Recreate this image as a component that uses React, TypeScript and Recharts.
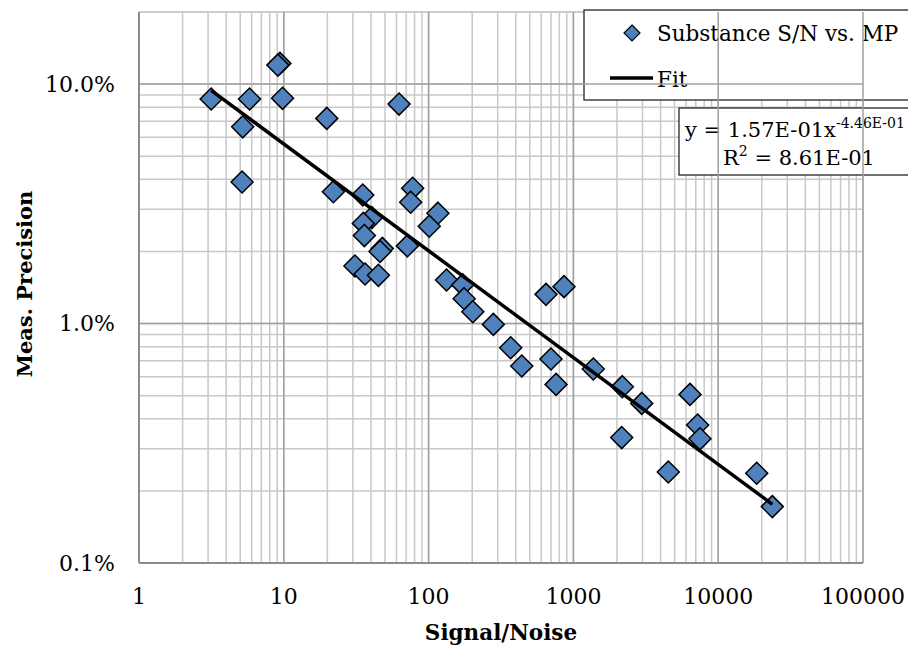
import React from 'react';
import {
  ScatterChart,
  Scatter,
  XAxis,
  YAxis,
  CartesianGrid,
  ReferenceLine,
  Customized,
} from 'recharts';

// Signal/noise ratio of each substance
const signalNoise = [
  3.15, 5.2, 5.15, 5.8, 9.4, 9.1, 9.8, 19.8, 62.5, 22.0, 35.1, 40.5, 35.4, 36.0,
  47.9, 46.2, 31.0, 36.4, 45.0, 77.6, 75.2, 71.3, 116, 101, 133, 172, 176, 202,
  280, 369, 440, 647, 861, 700, 759, 1372, 2177, 2964, 2155, 6385, 7210, 7480,
  4521, 18450, 23650,
];

// Measurement precision (relative, as a fraction)
const precision = [
  0.0866, 0.0663, 0.039, 0.0866, 0.122, 0.12, 0.0872, 0.0719, 0.0825, 0.0355,
  0.0344, 0.0277, 0.0262, 0.0233, 0.0206, 0.02, 0.0174, 0.0161, 0.0159, 0.0367,
  0.0321, 0.0211, 0.0289, 0.0255, 0.0152, 0.0145, 0.0127, 0.0112, 0.00992,
  0.00792, 0.00665, 0.01324, 0.01426, 0.00711, 0.00557, 0.00646, 0.00545,
  0.00464, 0.00334, 0.00506, 0.00377, 0.0033, 0.0024, 0.00237, 0.00172,
];

// Power-law fit y = a * x^b
const fitA = 0.157;
const fitB = -0.446;
const fitRange = [3.15, 23650];
const fitEquation = 'y = 1.57E-01x';
const fitExponent = '-4.46E-01';
const fitR2 = '8.61E-01';

// Axis decades and their labels
const xDecades = [1, 10, 100, 1000, 10000, 100000];
const xDecadeLabels = ['1', '10', '100', '1000', '10000', '100000'];
const yDecades = [0.001, 0.01, 0.1];
const yDecadeLabels = ['0.1%', '1.0%', '10.0%'];
const yTop = 0.2;

const seriesName = 'Substance S/N vs. MP';
const fitName = 'Fit';
const xTitle = 'Signal/Noise';
const yTitle = 'Meas. Precision';

const FONT = '"DejaVu Serif", serif';
const BLUE = '#4F81BD';

const points = signalNoise.map((x, i) => ({ x, y: precision[i] }));
const fitData = fitRange.map((x) => ({ x, y: fitA * Math.pow(x, fitB) }));

// gridline positions: 1..9 within each decade
const xGrid: number[] = [];
xDecades.forEach((d, i) => {
  if (i === xDecades.length - 1) {
    xGrid.push(d);
    return;
  }
  for (let m = 1; m <= 9; m++) xGrid.push(d * m);
});
const yGrid: number[] = [];
yDecades.forEach((d) => {
  for (let m = 1; m <= 9; m++) {
    const v = d * m;
    if (v <= yTop + 1e-12) yGrid.push(v);
  }
});
yGrid.push(yTop);

const near = (a: number, b: number) => Math.abs(Math.log10(a) - Math.log10(b)) < 1e-6;
const fmtX = (v: number) => {
  const i = xDecades.findIndex((d) => near(d, v));
  return i >= 0 ? xDecadeLabels[i] : '';
};
const fmtY = (v: number) => {
  const i = yDecades.findIndex((d) => near(d, v));
  return i >= 0 ? yDecadeLabels[i] : '';
};

const Diamond = (props: any) => {
  const { cx, cy } = props;
  if (cx == null || cy == null) return <g />;
  const r = 11;
  return (
    <polygon
      points={`${cx},${cy - r} ${cx + r},${cy} ${cx},${cy + r} ${cx - r},${cy}`}
      fill={BLUE}
      stroke="#000"
      strokeWidth={1.5}
    />
  );
};

const NoMarker = () => <g />;

const Annotations = () => (
  <g fontFamily={FONT}>
    {/* axis titles */}
    <text x={501} y={640} textAnchor="middle" fontSize={21.5} fontWeight="bold" fill="#000">
      {xTitle}
    </text>
    <text
      x={32}
      y={284}
      textAnchor="middle"
      fontSize={21}
      fontWeight="bold"
      fill="#000"
      transform="rotate(-90 32 284)"
    >
      {yTitle}
    </text>

    {/* legend */}
    <rect x={584} y={10} width={330} height={90} fill="#fff" stroke="#262626" strokeWidth={1.3} />
    <polygon points="632,25 640,33 632,41 624,33" fill={BLUE} stroke="#000" strokeWidth={1.2} />
    <text x={657} y={41} fontSize={21.5} fill="#000">
      {seriesName}
    </text>
    <line x1={610} y1={78} x2={653} y2={78} stroke="#000" strokeWidth={3.5} />
    <text x={657} y={87} fontSize={21.5} fill="#000">
      {fitName}
    </text>

    {/* trendline equation */}
    <rect x={679} y={108} width={240} height={67} fill="#fff" stroke="#262626" strokeWidth={1.3} />
    <text x={685} y={137} fontSize={21} fill="#000">
      {fitEquation}
      <tspan fontSize={14} dy={-9}>
        {fitExponent}
      </tspan>
    </text>
    <text x={723} y={165} fontSize={21} fill="#000">
      R
      <tspan fontSize={14} dy={-9}>
        2
      </tspan>
      <tspan dy={9}>{` = ${fitR2}`}</tspan>
    </text>
  </g>
);

export default function App() {
  return (
    <div
      style={{
        position: 'absolute',
        left: 0,
        top: 0,
        width: 908,
        height: 646,
        overflow: 'hidden',
        background: '#fff',
        fontFamily: FONT,
      }}
    >
      <ScatterChart width={908} height={646} margin={{ top: 12, right: 45, bottom: 23, left: 0 }}>
        <CartesianGrid stroke="#c8c8c8" strokeWidth={1.5} horizontal vertical />
        <XAxis
          type="number"
          dataKey="x"
          scale="log"
          domain={[1, 100000]}
          ticks={xGrid}
          interval={0}
          tickFormatter={fmtX}
          tickLine={false}
          tickSize={0}
          tickMargin={25}
          height={60}
          axisLine={{ stroke: '#8c8c8c', strokeWidth: 2 }}
          tick={{ fill: '#000', fontSize: 22, fontFamily: FONT }}
          allowDataOverflow
        />
        <YAxis
          type="number"
          dataKey="y"
          scale="log"
          domain={[0.001, yTop]}
          ticks={yGrid}
          interval={0}
          tickFormatter={fmtY}
          tickLine={false}
          tickSize={0}
          tickMargin={24}
          width={139}
          axisLine={{ stroke: '#8c8c8c', strokeWidth: 2 }}
          tick={{ fill: '#000', fontSize: 22, fontFamily: FONT }}
          allowDataOverflow
        />
        {xDecades.slice(1).map((d) => (
          <ReferenceLine key={`xd${d}`} x={d} stroke="#a0a0a0" strokeWidth={1.5} />
        ))}
        {yDecades.slice(1).map((d) => (
          <ReferenceLine key={`yd${d}`} y={d} stroke="#a0a0a0" strokeWidth={1.5} />
        ))}
        <Scatter
          name={seriesName}
          data={points}
          shape={<Diamond />}
          isAnimationActive={false}
        />
        <Scatter
          name={fitName}
          data={fitData}
          line={{ stroke: '#000', strokeWidth: 3.5 }}
          lineType="joint"
          shape={<NoMarker />}
          isAnimationActive={false}
        />
        <Customized component={Annotations} />
      </ScatterChart>
    </div>
  );
}
